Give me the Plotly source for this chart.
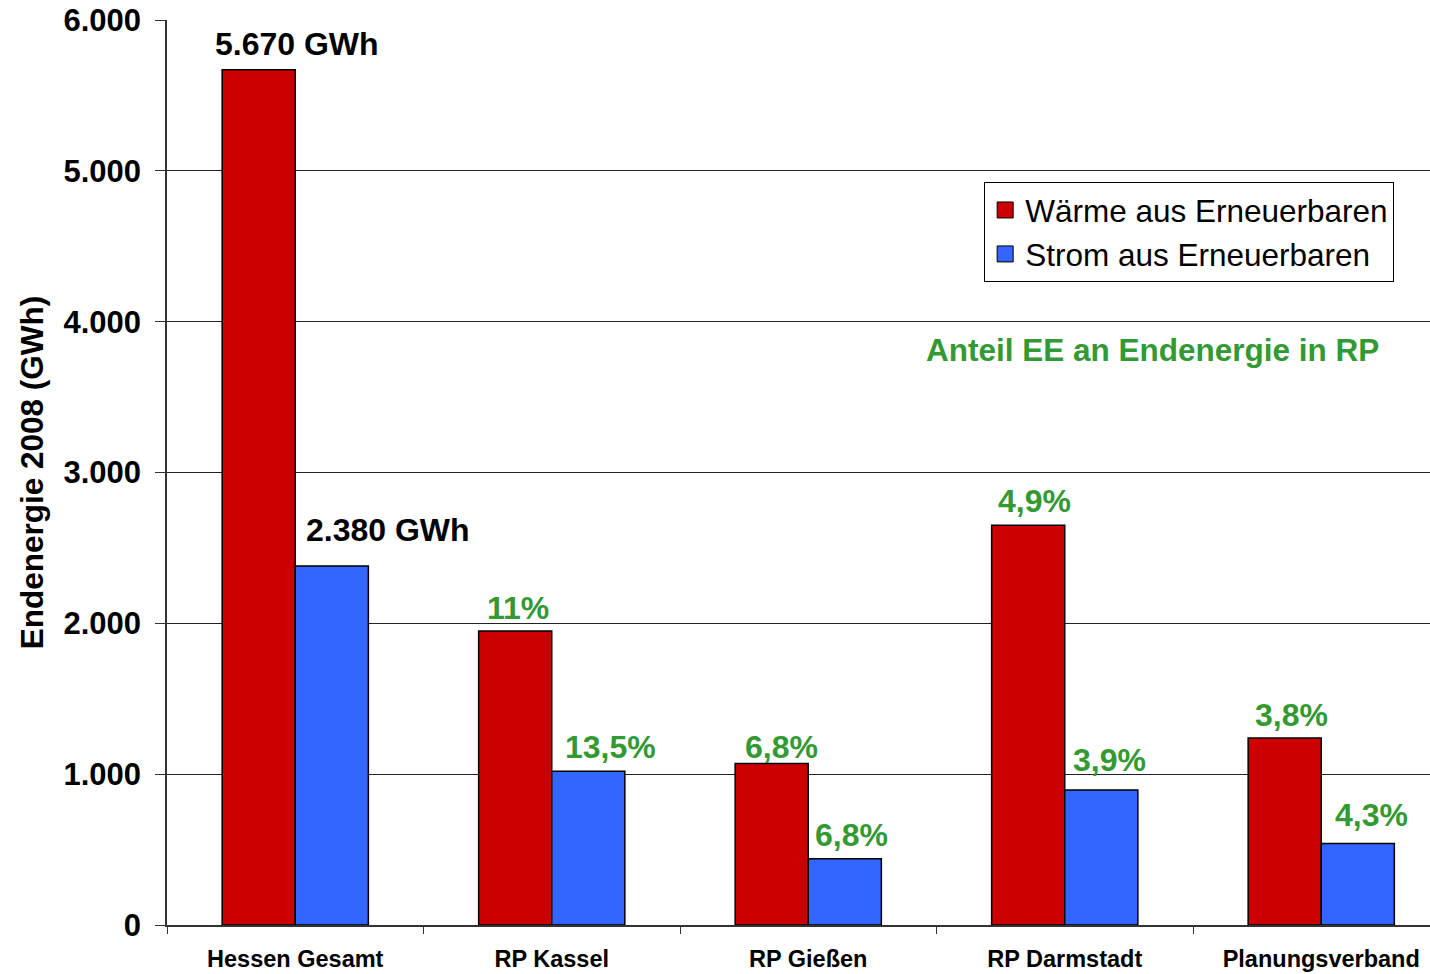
import plotly.graph_objects as go

# Endenergie aus erneuerbaren Quellen 2008, Hessen und Regierungsbezirke (GWh)
regionen = ["Hessen Gesamt", "RP Kassel", "RP Gießen", "RP Darmstadt", "Planungsverband"]
waerme_gwh = [5670, 1950, 1070, 2650, 1240]
strom_gwh = [2380, 1020, 440, 895, 540]

# Anteil EE an der Endenergie im jeweiligen RP (Hessen gesamt: absolute Summe)
waerme_anteil = [None, "11%", "6,8%", "4,9%", "3,8%"]
strom_anteil = [None, "13,5%", "6,8%", "3,9%", "4,3%"]

y_ticks = [0, 1000, 2000, 3000, 4000, 5000, 6000]

# label placement (pixels): horizontal offset from bar centre, gap above bar top
waerme_dx = [38, 3, 10, 6, 7]
waerme_gap = [14, 11, 5, 12, 11]
strom_dx = [56, 22, 7, 8, 14]
strom_gap = [24, 12, 12, 18, 17]

ROT = "#CC0000"
BLAU = "#3366FF"
GRUEN = "#339933"
FONT = "Liberation Sans, Arial, sans-serif"
BARGAP = 0.43

fig = go.Figure()
fig.add_trace(go.Bar(
    name="Wärme aus Erneuerbaren", x=regionen, y=waerme_gwh,
    marker=dict(color=ROT, line=dict(color="black", width=1.5)),
    showlegend=False,
))
fig.add_trace(go.Bar(
    name="Strom aus Erneuerbaren", x=regionen, y=strom_gwh,
    marker=dict(color=BLAU, line=dict(color="black", width=1.5)),
    showlegend=False,
))

# legend entries with larger square swatches
for name, color, grp in (("Wärme aus Erneuerbaren", ROT, "w"),
                         ("Strom aus Erneuerbaren", BLAU, "s")):
    fig.add_trace(go.Scatter(
        name=name, x=[None], y=[None], mode="markers",
        marker=dict(symbol="square", size=18, color=color,
                    line=dict(color="black", width=1)),
        legendgroup=grp, hoverinfo="skip",
    ))


def gwh_text(v):
    return f"{v:,} GWh".replace(",", ".")


half = (1 - BARGAP) / 4  # offset of each bar centre from the category centre
for i, region in enumerate(regionen):
    for vals, shares, dxs, gaps, sign in (
        (waerme_gwh, waerme_anteil, waerme_dx, waerme_gap, -1),
        (strom_gwh, strom_anteil, strom_dx, strom_gap, 1),
    ):
        if shares[i] is None:
            text, color = gwh_text(vals[i]), "black"
        else:
            text, color = shares[i], GRUEN
        fig.add_annotation(
            x=i + sign * half, y=vals[i], xref="x", yref="y",
            text=text, showarrow=False, xanchor="center", yanchor="bottom",
            xshift=dxs[i], yshift=gaps[i] - 8,
            font=dict(family=FONT, size=32, color=color, weight="bold"),
        )

fig.add_annotation(
    x=0.78, y=0.635, xref="paper", yref="paper",
    text="Anteil EE an Endenergie in RP", showarrow=False,
    xanchor="center", yanchor="middle",
    font=dict(family=FONT, size=31.5, color=GRUEN, weight="bold"),
)

fig.update_layout(
    width=1430, height=974,
    margin=dict(l=167, r=0, t=20, b=49, autoexpand=False),
    paper_bgcolor="white", plot_bgcolor="white",
    barmode="group", bargap=BARGAP, bargroupgap=0,
    separators=",.",
    font=dict(family=FONT, color="black"),
    legend=dict(
        x=0.647, y=0.821, xanchor="left", yanchor="top",
        bgcolor="white", bordercolor="black", borderwidth=1,
        font=dict(family=FONT, size=31.5, color="black"),
        traceorder="grouped", tracegroupgap=0,
        itemsizing="trace",
    ),
    showlegend=True,
)

fig.update_xaxes(
    type="category", range=[-0.5, 4.424], tickson="boundaries",
    ticks="outside", ticklen=7, tickcolor="#333", tickwidth=1,
    showline=True, linecolor="#333", linewidth=1.5,
    showgrid=False, automargin=False,
    tickfont=dict(family=FONT, size=23.5, color="black", weight="bold"),
    ticklabelstandoff=12,
)
fig.update_yaxes(
    range=[0, 6000], tickvals=y_ticks, tickformat=",d",
    ticks="outside", ticklen=10, tickcolor="#333", tickwidth=1,
    showline=True, linecolor="#333", linewidth=1.5,
    showgrid=True, gridcolor="#222", gridwidth=1, zeroline=False,
    automargin=False,
    tickfont=dict(family=FONT, size=31, color="black", weight="bold"),
    ticklabelstandoff=8,
    title=dict(text="Endenergie 2008 (GWh)", standoff=10,
               font=dict(family=FONT, size=31.5, color="black", weight="bold")),
)

fig.write_html("out.html")
